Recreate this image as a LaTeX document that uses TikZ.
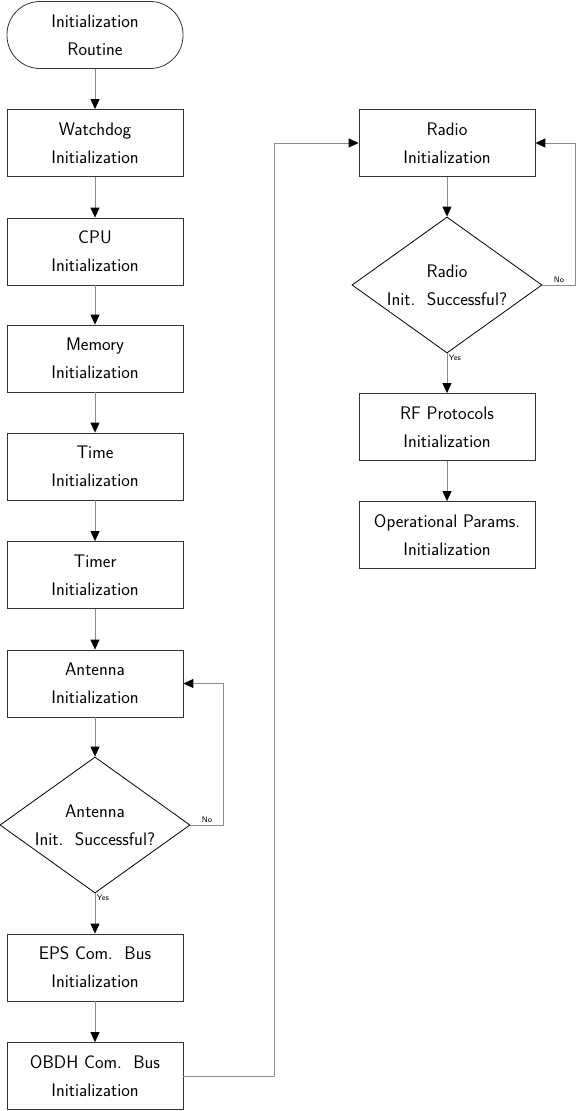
\documentclass[tikz,border=0pt]{standalone}
\usetikzlibrary{shapes.geometric,arrows.meta}
\begin{document}
\begin{tikzpicture}[x=1pt,y=-1pt,
  font=\sffamily\fontsize{18.2}{28}\selectfont,
  stepbox/.style={draw=black!80, line width=0.8pt, minimum width=176pt, minimum height=67pt, inner sep=0pt, align=center},
  startbox/.style={stepbox, rounded corners=33pt},
  decision/.style={diamond, draw=black, line width=0.8pt, aspect=1.4, minimum width=190pt, minimum height=136pt, inner sep=0pt, align=center},
  conn/.style={draw=black!45, line width=0.9pt, -{Triangle[black, length=10pt, width=9pt]}},
  lbl/.style={font=\sffamily\fontsize{8}{9}\selectfont, inner sep=1.5pt}
]
\useasboundingbox (0,0) rectangle (576,1111);
\node[startbox] (start) at (95,35) {Initialization\\Routine};
\node[stepbox] (wd) at (95,143) {Watchdog\\Initialization};
\node[stepbox] (cpu) at (95,251.5) {CPU\\Initialization};
\node[stepbox] (mem) at (95,358.5) {Memory\\Initialization};
\node[stepbox] (time) at (95,466.5) {Time\\Initialization};
\node[stepbox] (timer) at (95,575) {Timer\\Initialization};
\node[stepbox] (ant) at (95,683.5) {Antenna\\Initialization};
\node[decision] (antok) at (95,825) {Antenna\\Init.~~Successful?};
\node[stepbox] (eps) at (95,967.5) {EPS Com.~~Bus\\Initialization};
\node[stepbox] (obdh) at (95,1076) {OBDH Com.~~Bus\\Initialization};
\node[stepbox] (radio) at (447,143) {Radio\\Initialization};
\node[decision] (radok) at (447,285) {Radio\\Init.~~Successful?};
\node[stepbox] (rf) at (447,427) {RF Protocols\\Initialization};
\node[stepbox] (op) at (447,535) {Operational Params.\\Initialization};

\draw[conn] (start) -- (wd);
\draw[conn] (wd) -- (cpu);
\draw[conn] (cpu) -- (mem);
\draw[conn] (mem) -- (time);
\draw[conn] (time) -- (timer);
\draw[conn] (timer) -- (ant);
\draw[conn] (ant) -- (antok);
\draw[conn] (antok) -- node[lbl, pos=0.12, anchor=west] {Yes} (eps);
\draw[conn] (antok.east) -- node[lbl, pos=0.5, anchor=south] {No} ++(33,0) |- (ant.east);
\draw[conn] (eps) -- (obdh);
\draw[conn] (obdh.east) -- ++(91,0) |- (radio.west);
\draw[conn] (radio) -- (radok);
\draw[conn] (radok) -- node[lbl, pos=0.12, anchor=west] {Yes} (rf);
\draw[conn] (radok.east) -- node[lbl, pos=0.5, anchor=south] {No} ++(33,0) |- (radio.east);
\draw[conn] (rf) -- (op);
\end{tikzpicture}
\end{document}
